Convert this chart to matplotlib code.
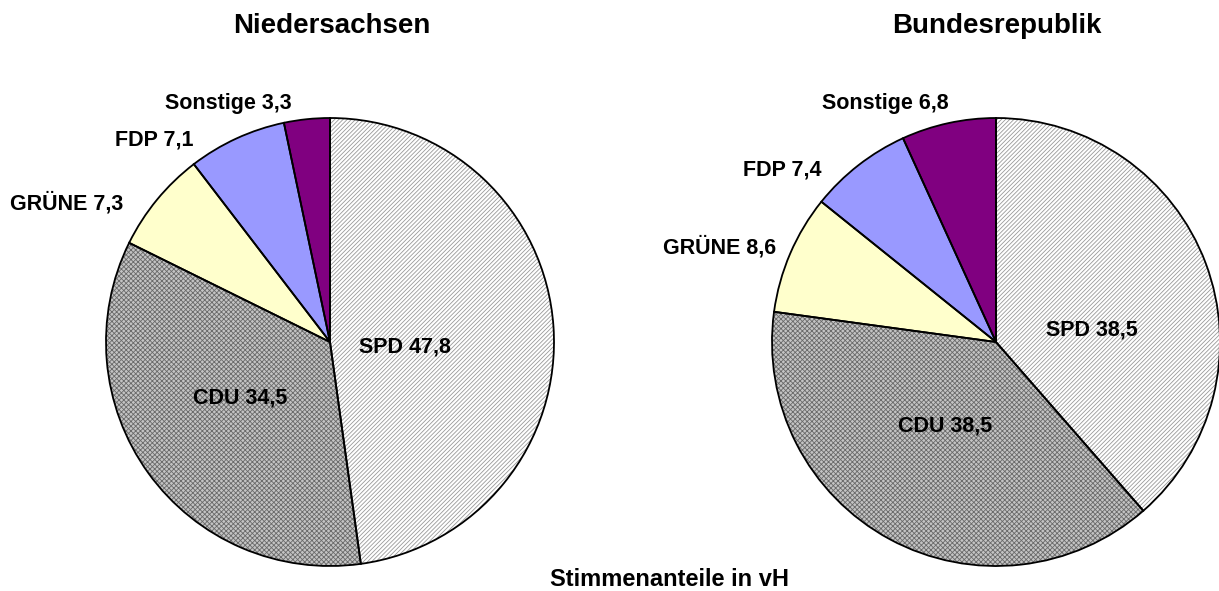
import matplotlib.pyplot as plt

plt.rcParams['font.family'] = ['Liberation Sans', 'DejaVu Sans']
plt.rcParams['hatch.linewidth'] = 0.6

# Stimmenanteile in vH
parties = ['SPD', 'CDU', 'GRÜNE', 'FDP', 'Sonstige']
nds_values = [47.8, 34.5, 7.3, 7.1, 3.3]
brd_values = [38.5, 38.5, 8.6, 7.4, 6.8]
titles = ['Niedersachsen', 'Bundesrepublik']
footer = 'Stimmenanteile in vH'

# styles
face = ['white', '#c4c4c4', '#ffffcc', '#9999ff', '#800080']
hatches = ['////////', 'xxxxxxx', None, None, None]
hatch_col = ['#999999', '#6a6a6a', 'none', 'none', 'none']

# layout in pixels (y from top)
W, H = 1219, 591
R = 224
centers = [(330, 342), (996, 342)]
title_pos = [(332, 26), (997, 26)]
label_pos = [
    [(405, 347), (240, 398), (67, 203), (154, 140), (228, 103)],
    [(1092, 330), (945, 426), (720, 247), (782, 170), (885, 103)],
]


def px(x, y):
    return x, H - y


fig = plt.figure(figsize=(W / 100, H / 100), dpi=100)
ax = fig.add_axes([0, 0, 1, 1])

for k, vals in enumerate([nds_values, brd_values]):
    c = px(*centers[k])
    wedges, _ = ax.pie(vals, colors=face, startangle=90, counterclock=False,
                       center=c, radius=R, normalize=True,
                       wedgeprops=dict(linewidth=0))
    for w, h, hc in zip(wedges, hatches, hatch_col):
        if h:
            w.set_edgecolor(hc)
            w.set_hatch(h)
            w.set_linewidth(0)
    # black outlines on top
    ax.pie(vals, colors=['none'] * len(vals), startangle=90, counterclock=False,
           center=c, radius=R, normalize=True,
           wedgeprops=dict(edgecolor='black', linewidth=1.3, fill=False))

    for name, v, pos in zip(parties, vals, label_pos[k]):
        txt = f'{name} {v}'.replace('.', ',')
        ax.text(*px(*pos), txt, ha='center', va='center',
                fontsize=15.5, fontweight='bold')

    ax.text(*px(*title_pos[k]), titles[k], ha='center', va='center',
            fontsize=20, fontweight='bold')

ax.text(*px(550, 580), footer, ha='left', va='center',
        fontsize=17, fontweight='bold')

ax.set_xlim(0, W)
ax.set_ylim(0, H)
ax.axis('off')

fig.savefig('out.png', dpi=100)
